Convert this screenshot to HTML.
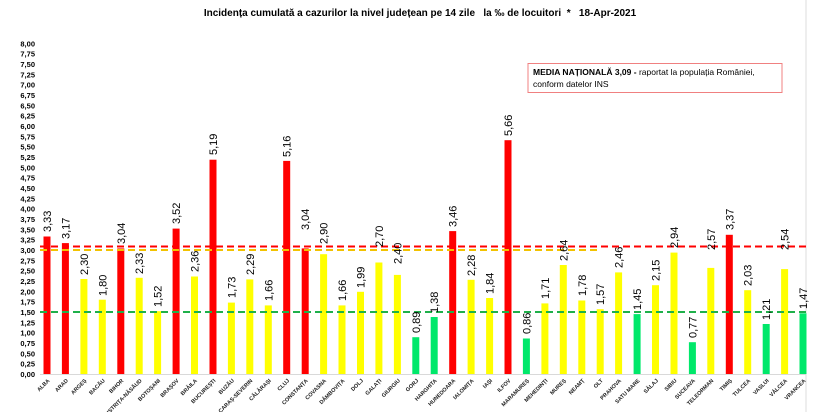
<!DOCTYPE html>
<html><head><meta charset="utf-8"><style>
html,body{margin:0;padding:0;background:#fff}
svg{display:block;font-family:"Liberation Sans",sans-serif}
.v{font-size:11px;fill:#000}
.c{font-size:5.5px;font-weight:bold;fill:#222}
.y{font-size:7.5px;font-weight:bold;fill:#000}
</style></head><body>
<svg width="814" height="412" viewBox="0 0 814 412">
<text x="420" y="16" text-anchor="middle" style="font-size:10px;font-weight:bold">Incidența cumulată a cazurilor la nivel județean pe 14 zile &#160; la ‰ de locuitori &#160;* &#160; 18-Apr-2021</text>
<line x1="806" y1="0" x2="806" y2="412" stroke="#ddd" stroke-width="1"/>
<g class="y" text-anchor="end">
<text x="35" y="377">0,00</text><text x="35" y="366.7">0,25</text><text x="35" y="356.3">0,50</text><text x="35" y="346">0,75</text>
<text x="35" y="335.7">1,00</text><text x="35" y="325.3">1,25</text><text x="35" y="315">1,50</text><text x="35" y="304.7">1,75</text>
<text x="35" y="294.4">2,00</text><text x="35" y="284">2,25</text><text x="35" y="273.7">2,50</text><text x="35" y="263.4">2,75</text>
<text x="35" y="253">3,00</text><text x="35" y="242.7">3,25</text><text x="35" y="232.4">3,50</text><text x="35" y="222">3,75</text>
<text x="35" y="211.7">4,00</text><text x="35" y="201.4">4,25</text><text x="35" y="191">4,50</text><text x="35" y="180.7">4,75</text>
<text x="35" y="170.4">5,00</text><text x="35" y="160">5,25</text><text x="35" y="149.7">5,50</text><text x="35" y="139.4">5,75</text>
<text x="35" y="129">6,00</text><text x="35" y="118.7">6,25</text><text x="35" y="108.4">6,50</text><text x="35" y="98">6,75</text>
<text x="35" y="87.7">7,00</text><text x="35" y="77.4">7,25</text><text x="35" y="67">7,50</text><text x="35" y="56.7">7,75</text>
<text x="35" y="46.4">8,00</text>
</g>
<line x1="40" y1="374.5" x2="806" y2="374.5" stroke="#d9d9d9" stroke-width="1"/>
<g>
<rect x="43.5" y="236.5" width="7" height="137.5" fill="#ff0000"/>
<rect x="61.9" y="243.1" width="7" height="130.9" fill="#ff0000"/>
<rect x="80.4" y="279" width="7" height="95" fill="#ffff00"/>
<rect x="98.8" y="299.7" width="7" height="74.3" fill="#ffff00"/>
<rect x="117.3" y="248.4" width="7" height="125.6" fill="#ff0000"/>
<rect x="135.7" y="277.8" width="7" height="96.2" fill="#ffff00"/>
<rect x="154.1" y="311.2" width="7" height="62.8" fill="#ffff00"/>
<rect x="172.6" y="228.6" width="7" height="145.4" fill="#ff0000"/>
<rect x="191" y="276.5" width="7" height="97.5" fill="#ffff00"/>
<rect x="209.5" y="159.7" width="7" height="214.3" fill="#ff0000"/>
<rect x="227.9" y="302.6" width="7" height="71.4" fill="#ffff00"/>
<rect x="246.3" y="279.4" width="7" height="94.6" fill="#ffff00"/>
<rect x="264.8" y="305.4" width="7" height="68.6" fill="#ffff00"/>
<rect x="283.2" y="160.9" width="7" height="213.1" fill="#ff0000"/>
<rect x="301.7" y="248.4" width="7" height="125.6" fill="#ff0000"/>
<rect x="320.1" y="254.2" width="7" height="119.8" fill="#ffff00"/>
<rect x="338.5" y="305.4" width="7" height="68.6" fill="#ffff00"/>
<rect x="357" y="291.8" width="7" height="82.2" fill="#ffff00"/>
<rect x="375.4" y="262.5" width="7" height="111.5" fill="#ffff00"/>
<rect x="393.9" y="274.9" width="7" height="99.1" fill="#ffff00"/>
<rect x="412.3" y="337.2" width="7" height="36.8" fill="#00e86a"/>
<rect x="430.7" y="317" width="7" height="57" fill="#00e86a"/>
<rect x="449.2" y="231.1" width="7" height="142.9" fill="#ff0000"/>
<rect x="467.6" y="279.8" width="7" height="94.2" fill="#ffff00"/>
<rect x="486.1" y="298" width="7" height="76" fill="#ffff00"/>
<rect x="504.5" y="140.2" width="7" height="233.8" fill="#ff0000"/>
<rect x="522.9" y="338.5" width="7" height="35.5" fill="#00e86a"/>
<rect x="541.4" y="303.4" width="7" height="70.6" fill="#ffff00"/>
<rect x="559.8" y="265" width="7" height="109" fill="#ffff00"/>
<rect x="578.3" y="300.5" width="7" height="73.5" fill="#ffff00"/>
<rect x="596.7" y="309.2" width="7" height="64.8" fill="#ffff00"/>
<rect x="615.1" y="272.4" width="7" height="101.6" fill="#ffff00"/>
<rect x="633.6" y="314.1" width="7" height="59.9" fill="#00e86a"/>
<rect x="652" y="285.2" width="7" height="88.8" fill="#ffff00"/>
<rect x="670.5" y="252.6" width="7" height="121.4" fill="#ffff00"/>
<rect x="688.9" y="342.2" width="7" height="31.8" fill="#00e86a"/>
<rect x="707.3" y="267.9" width="7" height="106.1" fill="#ffff00"/>
<rect x="725.8" y="234.8" width="7" height="139.2" fill="#ff0000"/>
<rect x="744.2" y="290.2" width="7" height="83.8" fill="#ffff00"/>
<rect x="762.7" y="324" width="7" height="50" fill="#00e86a"/>
<rect x="781.1" y="269.1" width="7" height="104.9" fill="#ffff00"/>
<rect x="799.5" y="313.3" width="7" height="60.7" fill="#00e86a"/>
</g>
<line x1="40" y1="250" x2="600" y2="250" stroke="#f2c200" stroke-width="2" stroke-dasharray="7,4"/>
<line x1="40" y1="246.5" x2="808" y2="246.5" stroke="#ff0000" stroke-width="2" stroke-dasharray="7,4"/>
<line x1="40" y1="312" x2="808" y2="312" stroke="#1fb04a" stroke-width="2" stroke-dasharray="7,4"/>
<g class="v">
<text transform="translate(51,232) rotate(-90)">3,33</text>
<text transform="translate(69.4,239) rotate(-90)">3,17</text>
<text transform="translate(87.9,275) rotate(-90)">2,30</text>
<text transform="translate(106.3,296) rotate(-90)">1,80</text>
<text transform="translate(124.8,244) rotate(-90)">3,04</text>
<text transform="translate(143.2,274) rotate(-90)">2,33</text>
<text transform="translate(161.6,307) rotate(-90)">1,52</text>
<text transform="translate(180.1,224) rotate(-90)">3,52</text>
<text transform="translate(198.5,272) rotate(-90)">2,36</text>
<text transform="translate(217,155) rotate(-90)">5,19</text>
<text transform="translate(235.4,298) rotate(-90)">1,73</text>
<text transform="translate(253.8,275) rotate(-90)">2,29</text>
<text transform="translate(272.3,301) rotate(-90)">1,66</text>
<text transform="translate(290.7,157) rotate(-90)">5,16</text>
<text transform="translate(309.2,230) rotate(-90)">3,04</text>
<text transform="translate(327.6,244) rotate(-90)">2,90</text>
<text transform="translate(346,301) rotate(-90)">1,66</text>
<text transform="translate(364.5,288) rotate(-90)">1,99</text>
<text transform="translate(382.9,247) rotate(-90)">2,70</text>
<text transform="translate(401.4,264) rotate(-90)">2,40</text>
<text transform="translate(419.8,333) rotate(-90)">0,89</text>
<text transform="translate(438.2,313) rotate(-90)">1,38</text>
<text transform="translate(456.7,227) rotate(-90)">3,46</text>
<text transform="translate(475.1,276) rotate(-90)">2,28</text>
<text transform="translate(493.6,294) rotate(-90)">1,84</text>
<text transform="translate(512,136) rotate(-90)">5,66</text>
<text transform="translate(530.4,334) rotate(-90)">0,86</text>
<text transform="translate(548.9,299) rotate(-90)">1,71</text>
<text transform="translate(567.3,261) rotate(-90)">2,64</text>
<text transform="translate(585.8,296) rotate(-90)">1,78</text>
<text transform="translate(604.2,305) rotate(-90)">1,57</text>
<text transform="translate(622.6,268) rotate(-90)">2,46</text>
<text transform="translate(641.1,310) rotate(-90)">1,45</text>
<text transform="translate(659.5,281) rotate(-90)">2,15</text>
<text transform="translate(678,248) rotate(-90)">2,94</text>
<text transform="translate(696.4,338) rotate(-90)">0,77</text>
<text transform="translate(714.8,250) rotate(-90)">2,57</text>
<text transform="translate(733.3,230) rotate(-90)">3,37</text>
<text transform="translate(751.7,286) rotate(-90)">2,03</text>
<text transform="translate(770.2,320) rotate(-90)">1,21</text>
<text transform="translate(788.6,250) rotate(-90)">2,54</text>
<text transform="translate(807,309) rotate(-90)">1,47</text>
</g>
<g class="c" text-anchor="end">
<text transform="translate(50,381) rotate(-45)">ALBA</text>
<text transform="translate(68.4,381) rotate(-45)">ARAD</text>
<text transform="translate(86.9,381) rotate(-45)">ARGEȘ</text>
<text transform="translate(105.3,381) rotate(-45)">BACĂU</text>
<text transform="translate(123.8,381) rotate(-45)">BIHOR</text>
<text transform="translate(142.2,381) rotate(-45)">BISTRIȚA-NĂSĂUD</text>
<text transform="translate(160.6,381) rotate(-45)">BOTOȘANI</text>
<text transform="translate(179.1,381) rotate(-45)">BRAȘOV</text>
<text transform="translate(197.5,381) rotate(-45)">BRĂILA</text>
<text transform="translate(216,381) rotate(-45)">BUCUREȘTI</text>
<text transform="translate(234.4,381) rotate(-45)">BUZĂU</text>
<text transform="translate(252.8,381) rotate(-45)">CARAȘ-SEVERIN</text>
<text transform="translate(271.3,381) rotate(-45)">CĂLĂRAȘI</text>
<text transform="translate(289.7,381) rotate(-45)">CLUJ</text>
<text transform="translate(308.2,381) rotate(-45)">CONSTANȚA</text>
<text transform="translate(326.6,381) rotate(-45)">COVASNA</text>
<text transform="translate(345,381) rotate(-45)">DÂMBOVIȚA</text>
<text transform="translate(363.5,381) rotate(-45)">DOLJ</text>
<text transform="translate(381.9,381) rotate(-45)">GALAȚI</text>
<text transform="translate(400.4,381) rotate(-45)">GIURGIU</text>
<text transform="translate(418.8,381) rotate(-45)">GORJ</text>
<text transform="translate(437.2,381) rotate(-45)">HARGHITA</text>
<text transform="translate(455.7,381) rotate(-45)">HUNEDOARA</text>
<text transform="translate(474.1,381) rotate(-45)">IALOMIȚA</text>
<text transform="translate(492.6,381) rotate(-45)">IAȘI</text>
<text transform="translate(511,381) rotate(-45)">ILFOV</text>
<text transform="translate(529.4,381) rotate(-45)">MARAMUREȘ</text>
<text transform="translate(547.9,381) rotate(-45)">MEHEDINȚI</text>
<text transform="translate(566.3,381) rotate(-45)">MUREȘ</text>
<text transform="translate(584.8,381) rotate(-45)">NEAMȚ</text>
<text transform="translate(603.2,381) rotate(-45)">OLT</text>
<text transform="translate(621.6,381) rotate(-45)">PRAHOVA</text>
<text transform="translate(640.1,381) rotate(-45)">SATU MARE</text>
<text transform="translate(658.5,381) rotate(-45)">SĂLAJ</text>
<text transform="translate(677,381) rotate(-45)">SIBIU</text>
<text transform="translate(695.4,381) rotate(-45)">SUCEAVA</text>
<text transform="translate(713.8,381) rotate(-45)">TELEORMAN</text>
<text transform="translate(732.3,381) rotate(-45)">TIMIȘ</text>
<text transform="translate(750.7,381) rotate(-45)">TULCEA</text>
<text transform="translate(769.2,381) rotate(-45)">VASLUI</text>
<text transform="translate(787.6,381) rotate(-45)">VÂLCEA</text>
<text transform="translate(806,381) rotate(-45)">VRANCEA</text>
</g>
<rect x="528" y="63.5" width="254" height="29" fill="#fff" stroke="#f08080" stroke-width="1"/>
<text x="533" y="75" style="font-size:8.5px"><tspan font-weight="bold">MEDIA NAȚIONALĂ 3,09 -</tspan> raportat la populația României,</text>
<text x="533" y="87" style="font-size:8.5px">conform datelor INS</text>
</svg>
</body></html>
